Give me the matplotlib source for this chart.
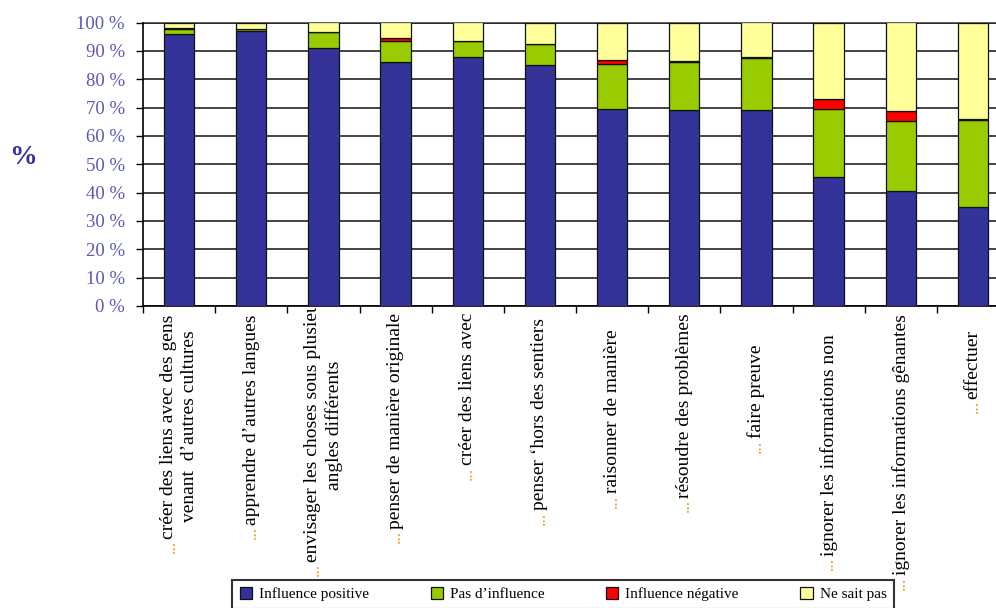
import numpy as np
import matplotlib
matplotlib.use("Agg")
import matplotlib.pyplot as plt
from matplotlib.ticker import FixedLocator
from matplotlib.transforms import Bbox, TransformedBbox


plt.rcParams['font.family'] = ['Liberation Serif', 'DejaVu Serif']

categories = [
    "créer des liens avec des gens\nvenant  d’autres cultures",
    "apprendre d’autres langues",
    "envisager les choses sous plusieurs\nangles différents",
    "penser de manière originale",
    "créer des liens avec",
    "penser ‘hors des sentiers",
    "raisonner de manière",
    "résoudre des problèmes",
    "faire preuve",
    "ignorer les informations non",
    "ignorer les informations gênantes",
    "effectuer",
]

positive = [96, 97, 91, 86, 88, 85, 69.5, 69, 69, 45.4, 40.4, 34.8]
no_influence = [1.6, 0.6, 5.8, 7.3, 5.6, 7.5, 16, 17, 18.5, 24.2, 24.8, 30.7]
negative = [0.3, 0.1, 0, 1.1, 0, 0, 1.2, 0.5, 0.5, 3.5, 3.7, 0.5]
dont_know = [100 - a - b - c for a, b, c in zip(positive, no_influence, negative)]

series = [
    ("Influence positive", positive, "#333399"),
    ("Pas d’influence", no_influence, "#99cc00"),
    ("Influence négative", negative, "#ff0000"),
    ("Ne sait pas", dont_know, "#ffff99"),
]

ytick_vals = list(range(0, 101, 10))

# label distance below the axis (points), the source places them unevenly
label_pads = [6, 6, -13, 5, 5, 9, 17, 5, 28, 20, 6, 17]


def main():
    fig = plt.figure(figsize=(9.96, 6.08), dpi=100)
    # the plot area runs past the right edge of the picture, as in the source
    ax = fig.add_axes([143 / 996, 302 / 608, 866 / 996, 283.5 / 608])

    x = np.arange(len(categories))
    bottom = np.zeros(len(categories))
    handles = []
    for name, vals, col in series:
        b = ax.bar(x, vals, 0.42, bottom=bottom, color=col, edgecolor="#111111",
                   linewidth=0.9, label=name, zorder=3)
        bottom += np.array(vals)
        handles.append(b)

    ax.set_xlim(-0.5, len(categories) - 0.5)
    ax.set_ylim(0, 100)

    # grid
    ax.set_yticks(ytick_vals)
    ax.set_yticklabels([f"{v} %" for v in ytick_vals], color="#5858b8", fontsize=13.5)
    ax.yaxis.grid(True, color="#222222", linewidth=1.2, zorder=0)
    ax.tick_params(axis="y", direction="out", length=5, width=1, pad=8)
    for s in ["top", "right"]:
        ax.spines[s].set_visible(False)
    ax.axhline(100, color="#444444", linewidth=1.2, clip_on=False, zorder=1)
    ax.spines["left"].set_linewidth(1.2)
    ax.spines["bottom"].set_linewidth(1.2)

    # category ticks
    ax.set_xticks(x)
    ax.set_xticklabels(categories, rotation=90, va="top", ha="center",
                       multialignment="center", fontsize=14, linespacing=1.25)
    ax.tick_params(axis="x", which="major", length=0, pad=6)
    ax.xaxis.set_minor_locator(FixedLocator(np.arange(len(categories) + 1) - 0.5))
    ax.tick_params(axis="x", which="minor", direction="out", length=5, width=1)

    for tick, p in zip(ax.xaxis.get_major_ticks(), label_pads):
        tick.set_pad(p)

    # the long third label runs up past the axis and is cut there, like the source
    clip = TransformedBbox(Bbox([[0, 0], [1, 1 - 308 / 608]]), fig.transFigure)
    long_lbl = ax.xaxis.get_major_ticks()[2].label1
    long_lbl.set_clip_box(clip)
    long_lbl.set_clip_on(True)

    # orange leading dots
    for lbl in ax.get_xticklabels():
        fx = 0.27 if "\n" in lbl.get_text() else 0.5
        ax.annotate("...", xy=(fx, 0), xycoords=lbl, xytext=(0, -1),
                    textcoords="offset points", rotation=90, ha="center",
                    va="top", color="#f0a030", fontsize=13)

    fig.text(23 / 996, 1 - 157 / 608, "%", fontsize=20, fontweight="bold",
             color="#333399", ha="center", va="center")

    leg = fig.legend(handles=handles, loc="upper center", ncol=4,
                     bbox_to_anchor=(563 / 996, 1 - 572 / 608), fontsize=11,
                     frameon=True, fancybox=False, edgecolor="black",
                     handlelength=0.8, handleheight=0.8, handletextpad=0.45,
                     columnspacing=4.05, borderpad=0.5)
    leg.get_frame().set_linewidth(1.5)

    fig.savefig("out.png", dpi=100)


if __name__ == "__main__":
    main()
